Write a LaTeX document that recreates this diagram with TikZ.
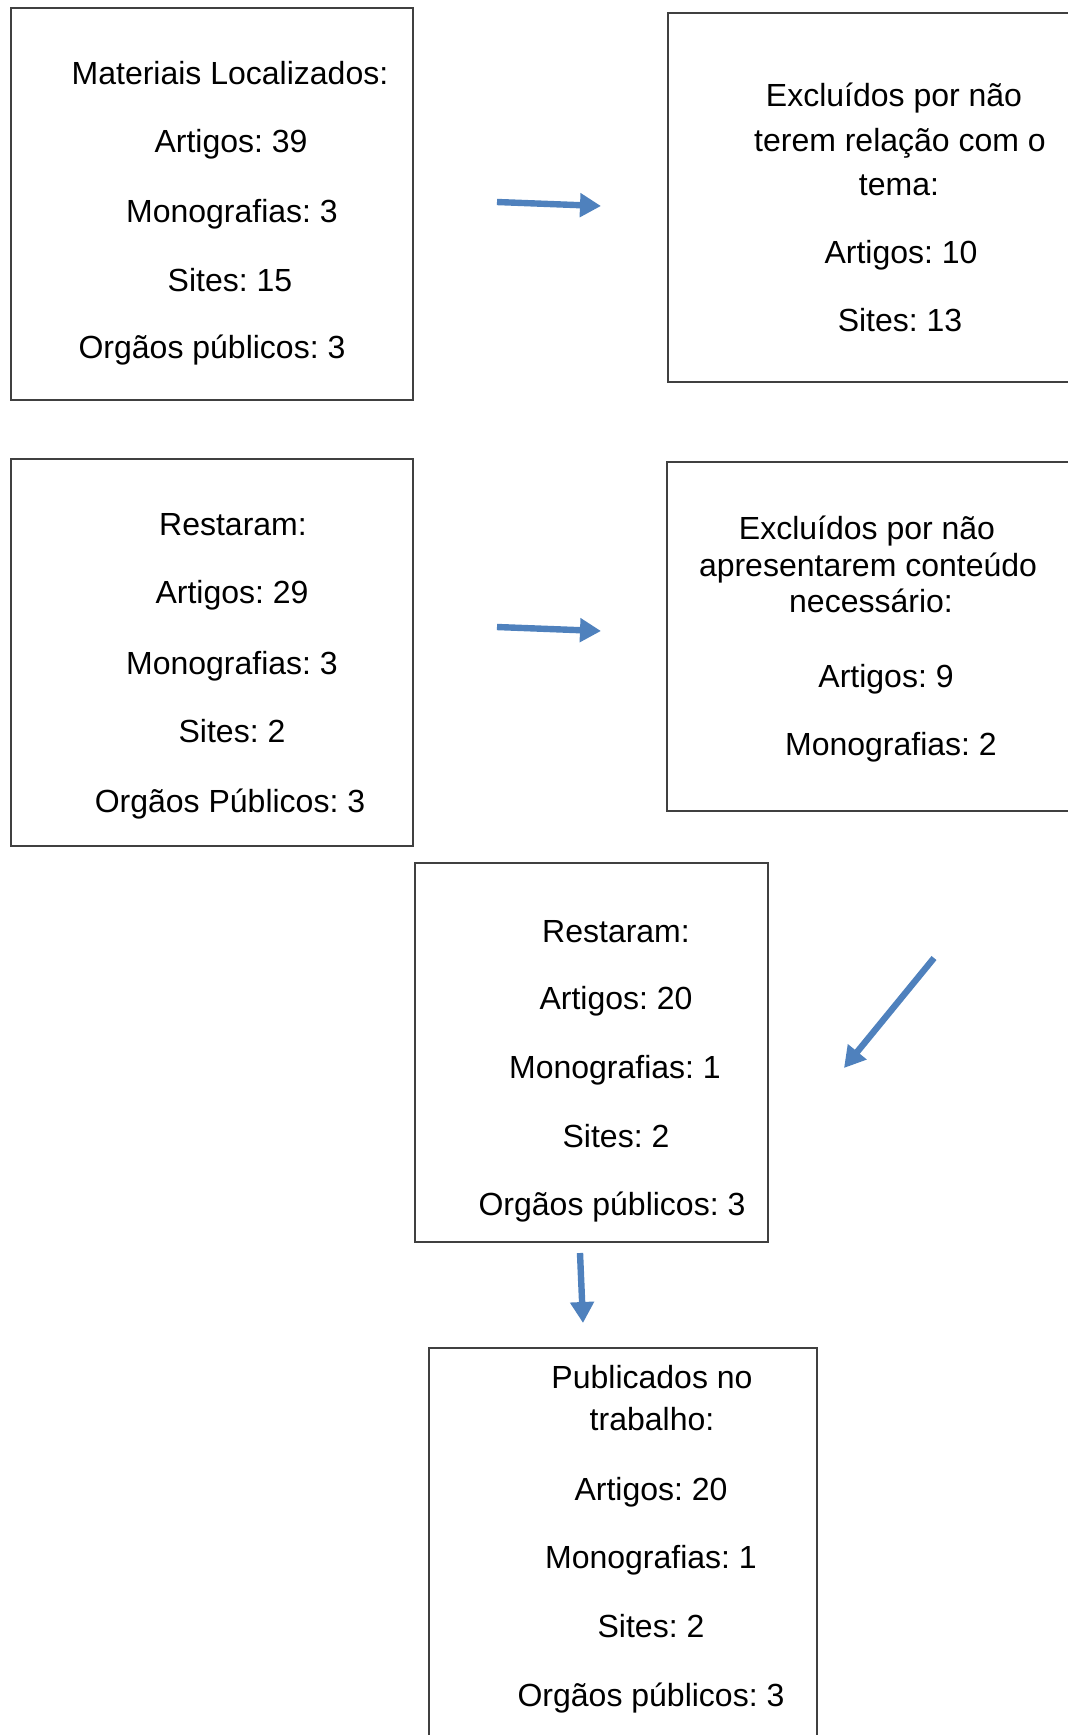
\documentclass[tikz,border=0pt]{standalone}
\usepackage{fontspec}
\setmainfont{Liberation Sans}
\usetikzlibrary{arrows.meta,fit}

\definecolor{azulseta}{HTML}{4F81BD}

\tikzset{
  caixa/.style={draw=black!75, line width=0.7pt, inner sep=0pt},
  linha/.style={anchor=base, inner sep=0pt, font=\fontsize{16pt}{19pt}\selectfont},
  seta/.style={azulseta, line width=3.2pt, -{Triangle[length=10.5pt, width=11.5pt]}}
}

\frenchspacing

\begin{document}
\begin{tikzpicture}[x=0.5pt, y=-0.5pt]

  % --- Page ---
  \useasboundingbox (0,0) rectangle (1068,1735);
  \clip (0,0) rectangle (1068,1735);

  % --- Boxes ---
  \node[caixa, fit={(11,8) (413,400)}] (materiais) {};
  \node[caixa, fit={(668,13) (1140,382)}] (semtema) {};
  \node[caixa, fit={(11,459) (413,846)}] (restaram) {};
  \node[caixa, fit={(667,462) (1140,811)}] (semconteudo) {};
  \node[caixa, fit={(415,863) (768,1242)}] (restaramfim) {};
  \node[caixa, fit={(429,1348) (817,1800)}] (publicados) {};

  % --- Texts ---
  \foreach \x/\y/\t [count=\i] in {230/84/Materiais Localizados:,
      231/152/Artigos: 39, 232/222/Monografias: 3, 230/291/Sites: 15,
      212/358/Orgãos públicos: 3}
    \node[linha] (mat\i) at (\x,\y) {\t};

  \foreach \x/\y/\t [count=\i] in {894/106/Excluídos por não,
      900/151/terem relação com o, 899/195/tema:, 901/263/Artigos: 10,
      900/331/Sites: 13}
    \node[linha] (tema\i) at (\x,\y) {\t};

  \foreach \x/\y/\t [count=\i] in {233/535/Restaram:, 232/603/Artigos: 29,
      232/674/Monografias: 3, 232/742/Sites: 2, 230/812/Orgãos Públicos: 3}
    \node[linha] (rest\i) at (\x,\y) {\t};

  \foreach \x/\y/\t [count=\i] in {867/539/Excluídos por não,
      868/576/apresentarem conteúdo, 871/612/necessário:,
      886/687/Artigos: 9, 891/755/Monografias: 2}
    \node[linha] (cont\i) at (\x,\y) {\t};

  \foreach \x/\y/\t [count=\i] in {616/942/Restaram:, 616/1009/Artigos: 20,
      615/1078/Monografias: 1, 616/1147/Sites: 2, 612/1215/Orgãos públicos: 3}
    \node[linha] (fim\i) at (\x,\y) {\t};

  \foreach \x/\y/\t [count=\i] in {652/1388/Publicados no, 652/1430/trabalho:,
      651/1500/Artigos: 20, 651/1568/Monografias: 1, 651/1637/Sites: 2,
      651/1706/Orgãos públicos: 3}
    \node[linha] (pub\i) at (\x,\y) {\t};

  % --- Arrows ---
  \coordinate (s1) at (497,202);  \coordinate (e1) at (601,206);
  \coordinate (s2) at (497,627);  \coordinate (e2) at (601,631);
  \coordinate (s3) at (934,958);  \coordinate (e3) at (844,1068);
  \coordinate (s4) at (580,1253); \coordinate (e4) at (583,1323);
  \foreach \k in {1,...,4}
    \draw[seta] (s\k) -- (e\k);

\end{tikzpicture}
\end{document}
